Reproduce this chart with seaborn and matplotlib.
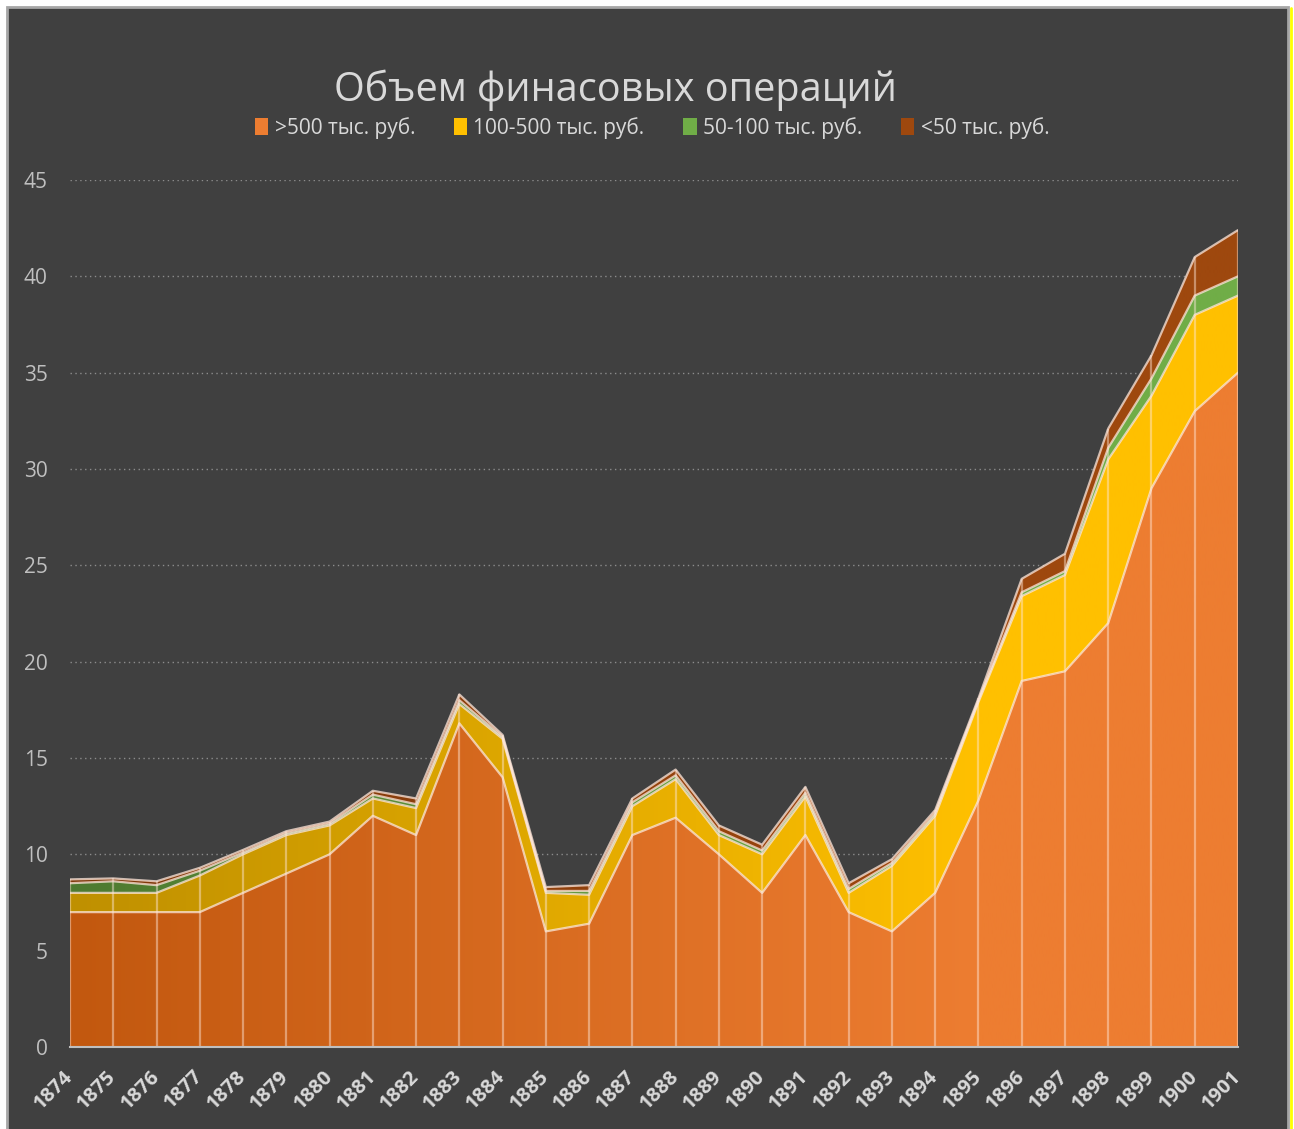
import numpy as np
import pandas as pd
import matplotlib
matplotlib.use("Agg")
import matplotlib.pyplot as plt
import seaborn as sns
from matplotlib.colors import LinearSegmentedColormap
from matplotlib.patches import Rectangle, Patch
from matplotlib.lines import Line2D

# ---------------- data ----------------
years = list(range(1874, 1902))
over_500 = [7, 7, 7, 7, 8, 9, 10, 12, 11, 16.8, 14, 6, 6.4, 11, 11.9, 10, 8, 11, 7, 6,
            8, 12.8, 19, 19.5, 22, 29, 33, 35]
r100_500 = [1, 1, 1, 1.9, 2, 2, 1.5, 0.9, 1.4, 1, 2, 2, 1.5, 1.5, 2, 1, 2, 2, 1, 3.4,
            4, 5.1, 4.4, 5, 8.5, 4.8, 5, 4]
r50_100 = [0.5, 0.6, 0.4, 0.25, 0.1, 0.1, 0.1, 0.2, 0.2, 0.2, 0.1, 0.1, 0.2, 0.2, 0.2,
           0.2, 0.2, 0.2, 0.2, 0.15, 0.15, 0.1, 0.2, 0.2, 0.6, 0.9, 1, 1]
lt_50 = [0.2, 0.15, 0.2, 0.15, 0.13, 0.1, 0.1, 0.2, 0.3, 0.3, 0.1, 0.2, 0.3, 0.2, 0.3,
         0.3, 0.3, 0.3, 0.3, 0.2, 0.15, 0.1, 0.7, 0.9, 1.0, 1.2, 2.0, 2.4]
series_names = [">500 тыс. руб.", "100-500 тыс. руб.", "50-100 тыс. руб.", "<50 тыс. руб."]
title = "Объем финасовых операций"
y_ticks = [0, 5, 10, 15, 20, 25, 30, 35, 40, 45]

# (left dark colour, right colour) for the horizontal gradient
grad_colors = [("#C2580F", "#ED7D31"),
               ("#BF9000", "#FFC000"),
               ("#4E7A30", "#70AD47"),
               ("#7E380A", "#9E480E")]

df = pd.DataFrame({"year": years, series_names[0]: over_500, series_names[1]: r100_500,
                   series_names[2]: r50_100, series_names[3]: lt_50})

# ---------------- style ----------------
sns.set_theme(style="dark")
plt.rcParams["font.family"] = ["Open Sans", "DejaVu Sans"]

W, H = 1294, 1129
BG = "#404040"
fig = plt.figure(figsize=(W / 100, H / 100), dpi=100, facecolor="white")
fig.patches.append(Rectangle((7 / W, -0.01), (1288 - 7) / W, 1 - 7 / H + 0.01,
                             transform=fig.transFigure, facecolor=BG,
                             edgecolor="#A6A6A6", lw=2, zorder=-10))
fig.lines.append(Line2D([1290.5 / W, 1290.5 / W], [0, 1 - 8 / H], transform=fig.transFigure,
                        color="#FFFF00", lw=2))

ax = fig.add_axes([70 / W, 1 - 1047 / H, 1168 / W, 867 / H])
ax.set_facecolor(BG)

x = np.array(df["year"], dtype=float)
lower = np.zeros(len(x))
grad = np.clip(np.linspace(0, 1, 600) / 0.78, 0, 1)[None, :]
for name, (c0, c1) in zip(series_names, grad_colors):
    upper = lower + df[name].to_numpy()
    poly = ax.fill_between(x, lower, upper, facecolor="none", lw=0)
    cmap = LinearSegmentedColormap.from_list(name, [c0, c1])
    img = ax.imshow(grad, extent=[x[0], x[-1], 0, 45], aspect="auto", cmap=cmap,
                    origin="lower", zorder=1, interpolation="bilinear")
    img.set_clip_path(poly.get_paths()[0], ax.transData)
    sns.lineplot(x=x, y=upper, ax=ax, color="#FFE8DC", alpha=0.75, lw=1.6,
                 zorder=3, legend=False)
    lower = upper

ax.vlines(x, 0, lower, color="#FFE8DC", alpha=0.45, lw=1.6, zorder=2)

ax.set_xlim(x[0], x[-1])
ax.set_ylim(0, 45)
ax.set_yticks(y_ticks)
ax.set_yticklabels([str(t) for t in y_ticks], color="#BFBFBF", fontsize=15)
ax.set_xticks(years)
ax.set_xticklabels([str(y) for y in years], rotation=45, ha="right", va="center",
                   rotation_mode="anchor", color="#D9D9D9", fontsize=14.5,
                   fontweight="bold")
ax.tick_params(axis="y", length=0, pad=16)
ax.tick_params(axis="x", length=0, pad=19)
ax.grid(False)
for yv in y_ticks[1:]:
    ax.axhline(yv, color="#8C8C8C", lw=1, ls=(0, (1, 2.5)), zorder=0.5)
for s in ["top", "right", "left"]:
    ax.spines[s].set_visible(False)
ax.spines["bottom"].set_color("#BFBFBF")
ax.spines["bottom"].set_linewidth(1.5)
ax.spines["bottom"].set_zorder(5)
ax.set_xlabel("")
ax.set_ylabel("")

fig.text(616 / W, 1 - 90 / H, title, ha="center", va="center",
         fontsize=28.5, color="#D9D9D9")

handles = [Patch(facecolor=c1, edgecolor="none") for _, c1 in grad_colors]
fig.legend(handles, series_names, loc="center", bbox_to_anchor=(652 / W, 1 - 128 / H),
           ncol=4, frameon=False, fontsize=15, labelcolor="#D9D9D9",
           handlelength=0.65, handleheight=0.85, handletextpad=0.3, columnspacing=1.85)

fig.savefig("out.png", dpi=100, facecolor=fig.get_facecolor())
